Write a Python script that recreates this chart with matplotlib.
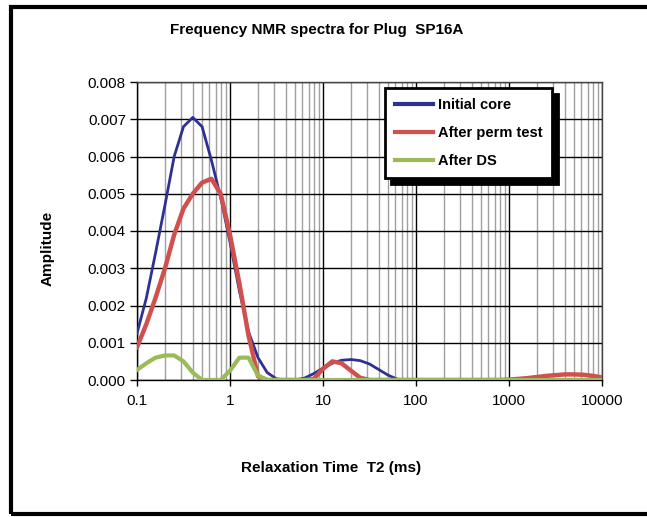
import numpy as np
import matplotlib
matplotlib.use("Agg")
import matplotlib.pyplot as plt
from matplotlib.patches import Rectangle
from matplotlib.ticker import LogLocator, FixedLocator, FixedFormatter, NullFormatter

plt.rcParams['font.family'] = ['Liberation Sans', 'DejaVu Sans']

# T2 bins (ms)
t2 = [0.1, 0.126, 0.158, 0.2, 0.251, 0.316, 0.398, 0.501, 0.631, 0.794,
      1.0, 1.26, 1.58, 2.0, 2.51, 3.16, 3.98, 5.01, 6.31, 7.94,
      10.0, 12.6, 15.8, 20.0, 25.1, 31.6, 39.8, 50.1, 63.1, 79.4,
      100, 126, 158, 200, 251, 316, 398, 501, 631, 794,
      1000, 1260, 1580, 2000, 2510, 3160, 3980, 5010, 6310, 7940, 10000]

initial_core = [0.00125, 0.0022, 0.0034, 0.0047, 0.0060, 0.0068, 0.00705, 0.0068, 0.0059, 0.0049,
                0.0037, 0.0024, 0.0013, 0.0006, 0.0002, 0.00003, 0.0, 0.0, 0.00005, 0.00017,
                0.00032, 0.00045, 0.00053, 0.00055, 0.00052, 0.00043, 0.00028, 0.00013, 0.00002, 0.0,
                0, 0, 0, 0, 0, 0, 0, 0, 0, 0,
                0, 0, 0, 0, 0, 0, 0, 0, 0, 0, 0]

after_perm = [0.00088, 0.0015, 0.0022, 0.0030, 0.0039, 0.0046, 0.0050, 0.0053, 0.0054, 0.0050,
              0.0039, 0.0026, 0.0012, 0.0001, 0.0, 0.0, 0.0, 0.0, 0.0, 0.00003,
              0.0003, 0.0005, 0.00045, 0.00025, 0.00006, 0.0, 0.0, 0.0, 0.0, 0.0,
              0, 0, 0, 0, 0, 0, 0, 0, 0, 0,
              0.00001, 0.00003, 0.00005, 0.00008, 0.00011, 0.00013, 0.00015, 0.00015, 0.00014, 0.00011, 0.00007]

after_ds = [0.00027, 0.00045, 0.0006, 0.00066, 0.00066, 0.0005, 0.0002, 0.0, 0.0, 0.0,
            0.00025, 0.0006, 0.0006, 0.00012, 0.0, 0.0, 0.0, 0.0, 0.0, 0.0,
            0, 0, 0, 0, 0, 0, 0, 0, 0, 0,
            0, 0, 0, 0, 0, 0, 0, 0, 0, 0,
            0, 0, 0, 0, 0, 0, 0, 0, 0, 0, 0]

series_names = ["Initial core", "After perm test", "After DS"]
series_colors = ["#2E3192", "#D0504D", "#9BBB59"]
series_widths = [2.0, 3.2, 3.0]

x_ticks = [0.1, 1, 10, 100, 1000, 10000]
x_tick_labels = ["0.1", "1", "10", "100", "1000", "10000"]
y_ticks = [0.000, 0.001, 0.002, 0.003, 0.004, 0.005, 0.006, 0.007, 0.008]

W, H = 647, 517
fig = plt.figure(figsize=(W / 100, H / 100), dpi=100)
fig.patch.set_facecolor("white")

# outer frame
fig.add_artist(Rectangle((11 / W, 1 - 514 / H), (700 - 11) / W, (514 - 7) / H,
                         transform=fig.transFigure, fill=False, edgecolor="black",
                         linewidth=3.0))

left, right, top, bottom = 137, 602, 82, 380
ax = fig.add_axes([left / W, 1 - bottom / H, (right - left) / W, (bottom - top) / H])

for vals, name, c, lw in zip([initial_core, after_perm, after_ds], series_names,
                             series_colors, series_widths):
    ax.plot(t2, vals, color=c, linewidth=lw, label=name, solid_joinstyle="round", zorder=3)

ax.set_xscale("log")
ax.set_xlim(0.1, 10000)
ax.set_ylim(0, 0.008)

ax.xaxis.set_major_locator(FixedLocator(x_ticks))
ax.xaxis.set_major_formatter(FixedFormatter(x_tick_labels))
ax.xaxis.set_minor_locator(LogLocator(base=10, subs=np.arange(2, 10), numticks=20))
ax.xaxis.set_minor_formatter(NullFormatter())
ax.set_yticks(y_ticks)
ax.set_yticklabels([f"{v:.3f}" for v in y_ticks])

ax.grid(True, which="minor", axis="x", color="#A0A0A0", linewidth=1.0, zorder=1)
ax.grid(True, which="major", axis="both", color="black", linewidth=1.0, zorder=1)
ax.set_axisbelow(True)

for s in ax.spines.values():
    s.set_color("#444444")
    s.set_linewidth(1.0)
ax.spines["left"].set_color("black")
ax.spines["bottom"].set_color("black")

ax.tick_params(axis="y", which="major", direction="out", length=5, width=1,
               labelsize=11, pad=3, colors="black")
ax.tick_params(axis="x", which="major", direction="out", length=4, width=1,
               labelsize=11, pad=6, colors="black")
ax.tick_params(axis="x", which="minor", length=0)

fig.text(317 / W, 1 - 30 / H, "Frequency NMR spectra for Plug  SP16A",
         ha="center", va="center", fontsize=11, fontweight="bold")
fig.text(48 / W, 1 - 248 / H, "Amplitude", rotation=90, ha="center", va="center",
         fontsize=11, fontweight="bold")
fig.text(331 / W, 1 - 468 / H, "Relaxation Time  T2 (ms)", ha="center", va="center",
         fontsize=11, fontweight="bold")

leg = ax.legend(loc="upper left", bbox_to_anchor=((385 - left) / (right - left), (bottom - 88) / (bottom - top)),
                borderaxespad=0, frameon=True, fancybox=False,
                shadow={"color": "black", "alpha": 1.0, "ox": 4, "oy": -4},
                prop={"weight": "bold", "size": 10.5}, handlelength=2.6,
                handletextpad=0.3, labelspacing=0.95, borderpad=0.7)
leg.get_frame().set_edgecolor("black")
leg.get_frame().set_linewidth(2.0)
leg.get_frame().set_alpha(1.0)
for h in leg.get_lines():
    h.set_linewidth(3.0)
leg.set_zorder(10)

fig.savefig("out.png", dpi=100)
